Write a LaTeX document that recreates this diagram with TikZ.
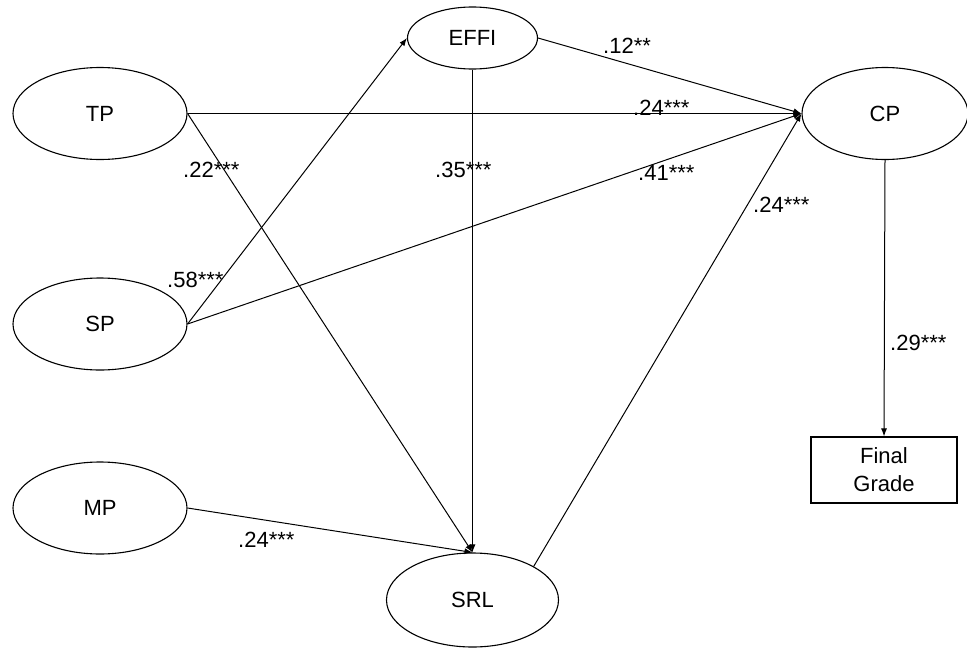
\documentclass[tikz,border=0pt]{standalone}
\usepackage{fontspec}
\setmainfont{Liberation Sans}
\usetikzlibrary{arrows.meta,shapes.geometric}
\begin{document}
\begin{tikzpicture}[x=1pt,y=-1pt,
  every node/.style={font=\fontsize{22}{28}\selectfont},
  latent/.style={ellipse,draw,line width=1.1pt,inner sep=0pt},
  observed/.style={rectangle,draw,line width=1.1pt,inner sep=0pt,align=center,
    minimum width=146pt,minimum height=66pt},
  path/.style={line width=1pt,-{Latex[length=8pt,width=6pt]}},
  coef/.style={anchor=base west,inner sep=0pt}]
  \useasboundingbox (0,0) rectangle (967,648);

  % latent variables
  \node[latent,minimum width=174pt,minimum height=92pt] (TP)   at (100,113.5) {TP};
  \node[latent,minimum width=174pt,minimum height=92pt] (SP)   at (100,324) {SP};
  \node[latent,minimum width=174pt,minimum height=92pt] (MP)   at (100,508) {MP};
  \node[latent,minimum width=130pt,minimum height=62pt] (EFFI) at (472.5,38)  {EFFI};
  \node[latent,minimum width=166pt,minimum height=92pt] (CP)   at (885,113.5) {CP};
  \node[latent,minimum width=172pt,minimum height=94pt] (SRL)  at (472.5,600) {SRL};

  % outcome
  \node[observed] (FG) at (884,470) {Final\\Grade};

  % structural paths
  \draw[path] (EFFI.east) -- (CP.west);
  \draw[path] (TP.east) -- (CP.west);
  \draw[path] (SP.east) -- (CP.west);
  \draw[path] (SRL.north east) -- (CP.west);
  \draw[path] (SP.east) -- (EFFI.west);
  \draw[path] (TP.east) -- (SRL.north);
  \draw[path] (EFFI.south) -- (SRL.north);
  \draw[path] (MP.east) -- (SRL.north);
  \draw[path] (CP.south) -- (FG.north);

  % path coefficients
  \node[coef] (c1) at (603,53)  {.12**};
  \node[coef] (c2) at (633,115) {.24***};
  \node[coef] (c3) at (435,177) {.35***};
  \node[coef] (c4) at (638,180) {.41***};
  \node[coef] (c5) at (183,177) {.22***};
  \node[coef] (c6) at (167,287) {.58***};
  \node[coef] (c7) at (753,212) {.24***};
  \node[coef] (c8) at (238,547) {.24***};
  \node[coef] (c9) at (890,350) {.29***};
\end{tikzpicture}
\end{document}
